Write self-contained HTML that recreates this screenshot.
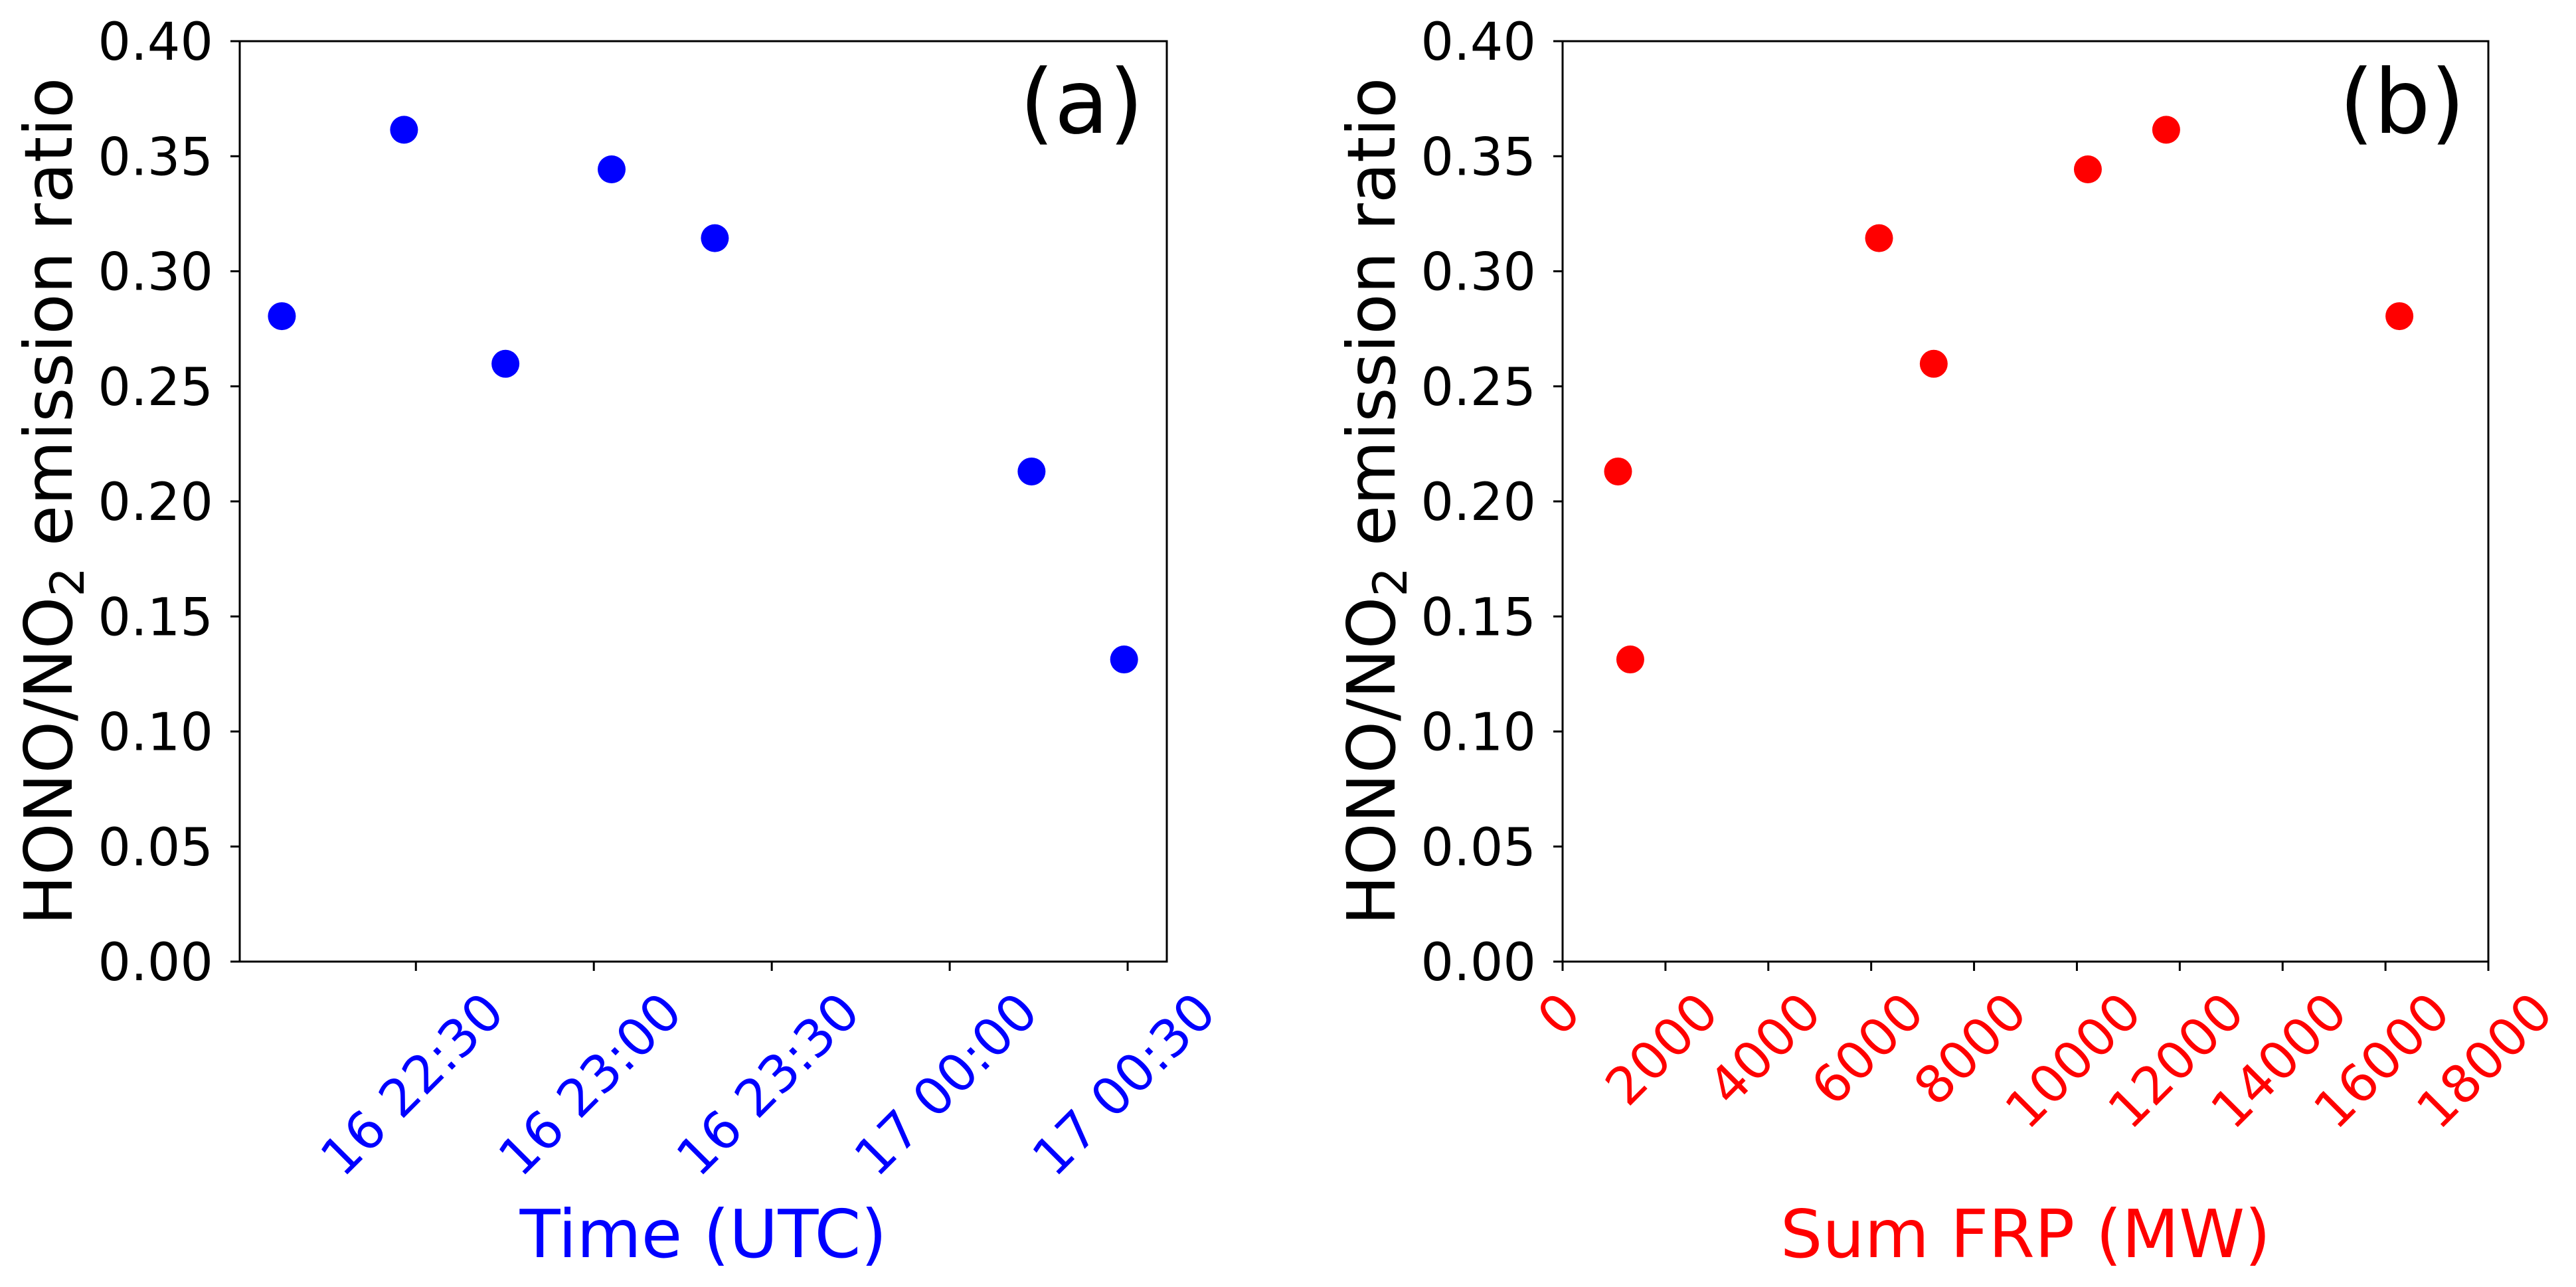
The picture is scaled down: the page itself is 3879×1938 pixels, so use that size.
<!DOCTYPE html>
<html><head><meta charset="utf-8"><style>
html,body{margin:0;padding:0;background:#fff;}
svg{display:block;font-family:"DejaVu Sans","Liberation Sans",sans-serif;}
</style></head><body>
<svg id="fig" width="3879" height="1938" viewBox="0 0 3879 1938" xmlns="http://www.w3.org/2000/svg">
<rect width="3879" height="1938" fill="#fff"/>
<g id="pa"></g>
<g id="pb"></g>
</svg>
<script>
// shared y data
const ratioValues = [0.2805, 0.3615, 0.2598, 0.3443, 0.3144, 0.2130, 0.1313];
// panel a: time in minutes after 16 22:00 UTC
const timeMinutes = [7.4, 28.0, 45.1, 63.0, 80.4, 133.8, 149.4];
const timeTicks = [30, 60, 90, 120, 150];
const timeTickLabels = ["16 22:30", "16 23:00", "16 23:30", "17 00:00", "17 00:30"];
// panel b: Sum FRP
const frpValues = [16271, 11736, 7216, 10213, 6153, 1078, 1316];
const frpTicks = [0, 2000, 4000, 6000, 8000, 10000, 12000, 14000, 16000, 18000];
const yTicks = [0, 0.05, 0.1, 0.15, 0.2, 0.25, 0.3, 0.35, 0.4];
const yTickLabels = ["0.00","0.05","0.10","0.15","0.20","0.25","0.30","0.35","0.40"];

const NS = "http://www.w3.org/2000/svg";
function mk(parent, tag, attrs, text){
  const e = document.createElementNS(NS, tag);
  for (const k in attrs) e.setAttribute(k, attrs[k]);
  if (text !== undefined) e.textContent = text;
  parent.appendChild(e);
  return e;
}

function panel(g, opt){
  const L = opt.left, R = opt.right, T = 62, B = 1448;
  const yS = v => B - (v - 0) / 0.4 * (B - T);
  const xS = v => L + (v - opt.xmin) / (opt.xmax - opt.xmin) * (R - L);
  // y ticks
  yTicks.forEach((v, i) => {
    const y = yS(v);
    const t = mk(g, "line", {x1: L-14, x2: L, y1: y, y2: y, stroke: "#000", "stroke-width": 3});
    
    
    const lb = mk(g, "text", {x: L-40, y: y + 28, "font-size": 78, "text-anchor": "end", fill: "#000"}, yTickLabels[i]);
    
    
  });
  // x ticks
  opt.ticks.forEach((v, i) => {
    const x = xS(v);
    const t = mk(g, "line", {x1: x, x2: x, y1: B, y2: B+14, stroke: "#000", "stroke-width": 3});
    
    
    const lb = mk(g, "text", {x: 0, y: 0, "font-size": 78, "text-anchor": "middle", "dominant-baseline": "central", fill: opt.color}, opt.labels[i]);
    
    
    const w = lb.getComputedTextLength();
    const cy = 1478 + (w + 91) * 0.7071 / 2;
    const cx = x - 5;
    lb.setAttribute("x", cx); lb.setAttribute("y", cy);
    lb.setAttribute("transform", `rotate(-45 ${cx} ${cy})`);
  });
  // points
  opt.xs.forEach((v, i) => {
    const c = mk(g, "circle", {cx: xS(v), cy: yS(ratioValues[i]), r: 21, fill: opt.color});
    
    
  });
  // frame
  const f = mk(g, "rect", {x: L, y: T, width: R-L, height: B-T, fill: "none", stroke: "#000", "stroke-width": 3});
  
  
  // y label
  const yl = mk(g, "text", {x: 0, y: 0, "font-size": 100, "text-anchor": "middle", fill: "#000", transform: `rotate(-90) translate(${-(T+B)/2} ${opt.ylabX})`});
  
  
  yl.appendChild(document.createTextNode("HONO/NO"));
  const sub = mk(yl, "tspan", {"font-size": 70, dy: 18}, "2");
  
  
  const rest = mk(yl, "tspan", {dy: -18}, " emission ratio");
  
  
  // x label
  const xl = mk(g, "text", {x: (L+R)/2, y: 1893, "font-size": 100, "text-anchor": "middle", fill: opt.color}, opt.xlabel);
  
  
  // panel letter
  const pl = mk(g, "text", {x: R - 35, y: 200, "font-size": 134, "text-anchor": "end", fill: "#000"}, opt.letter);
  
  
}

panel(document.getElementById("pa"), {left: 361, right: 1757, xmin: 0.3, xmax: 156.6,
  ticks: timeTicks, labels: timeTickLabels, xs: timeMinutes, color: "#0000ff",
  xlabel: "Time (UTC)", letter: "(a)", ylabX: 108});
panel(document.getElementById("pb"), {left: 2353, right: 3747, xmin: 0, xmax: 18000,
  ticks: frpTicks, labels: frpTicks.map(String), xs: frpValues, color: "#ff0000",
  xlabel: "Sum FRP (MW)", letter: "(b)", ylabX: 2100});
</script>
</body></html>
